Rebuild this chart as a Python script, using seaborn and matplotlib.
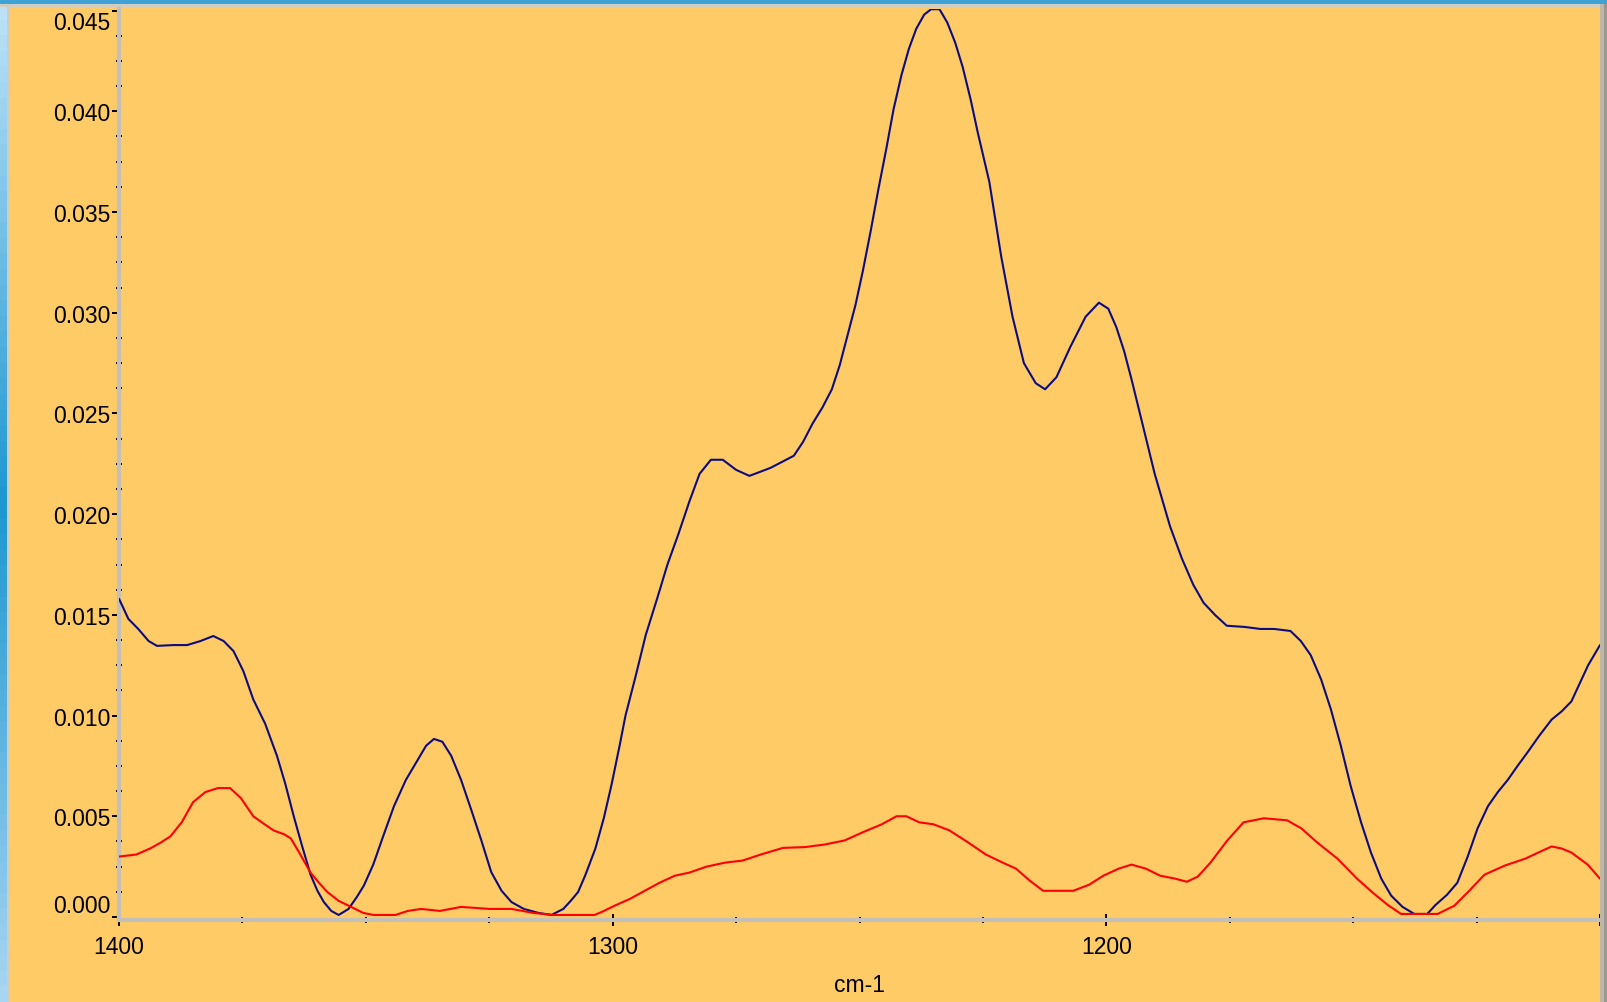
import numpy as np
import pandas as pd
import matplotlib
matplotlib.use("Agg")
import matplotlib.pyplot as plt
from matplotlib.patches import Rectangle
from matplotlib.colors import LinearSegmentedColormap
from matplotlib.ticker import MultipleLocator, FormatStrFormatter
import seaborn as sns

# blue trace (wavenumber cm-1, absorbance)
blue_wn = [1400.0, 1398.1, 1396.1, 1394.0, 1392.3, 1389.0, 1386.2, 1383.5, 1380.9, 1378.8,
           1376.8, 1374.8, 1372.8, 1370.4, 1368.0, 1366.3, 1364.6, 1363.0, 1361.2, 1359.8,
           1358.5, 1357.0, 1355.5, 1353.5, 1351.8, 1350.4, 1348.5, 1346.5, 1344.3, 1341.9,
           1339.5, 1337.8, 1336.2, 1334.5, 1332.7, 1330.7, 1328.7, 1326.6, 1324.6, 1322.5,
           1320.5, 1318.0, 1315.0, 1312.4, 1310.0, 1308.5, 1307.0, 1305.5, 1303.5, 1301.8,
           1300.2, 1298.6, 1297.4, 1295.3, 1293.3, 1291.0, 1288.9, 1286.7, 1284.5, 1282.4,
           1280.1, 1277.7, 1275.0, 1272.3, 1268.0, 1263.3, 1261.4, 1259.5, 1257.5, 1255.6,
           1254.0, 1252.4, 1250.8, 1249.3, 1247.7, 1246.2, 1244.6, 1243.1, 1241.5, 1240.0,
           1238.5, 1236.9, 1235.5, 1233.8, 1232.2, 1230.6, 1229.1, 1227.5, 1226.0, 1223.7,
           1221.3, 1219.0, 1216.7, 1214.3, 1212.4, 1210.1, 1207.3, 1204.2, 1201.5, 1199.6,
           1198.0, 1196.4, 1194.8, 1193.3, 1190.2, 1187.1, 1184.7, 1182.4, 1180.3, 1178.0,
           1175.6, 1172.0, 1168.8, 1166.0, 1162.7, 1160.6, 1158.6, 1156.5, 1154.5, 1152.5,
           1150.5, 1148.4, 1146.4, 1144.3, 1142.3, 1140.0, 1137.6, 1135.0, 1133.3, 1131.0,
           1128.9, 1126.8, 1124.8, 1122.7, 1120.7, 1118.7, 1116.7, 1114.6, 1112.3, 1109.8,
           1107.8, 1105.8, 1104.1, 1102.4, 1100.0]
blue_abs = [0.0158, 0.0148, 0.0143, 0.0137, 0.01346, 0.0135, 0.0135, 0.0137, 0.01395, 0.0137,
            0.0132, 0.0122, 0.0108, 0.0096, 0.0080, 0.0066, 0.0050, 0.0036, 0.0021, 0.0013,
            0.00074, 0.0003, 0.0001, 0.0004, 0.0010, 0.00156, 0.0026, 0.0040, 0.0055, 0.0068,
            0.0078, 0.0085, 0.00884, 0.0087, 0.0080, 0.0068, 0.00536, 0.0038, 0.00223, 0.0013,
            0.00074, 0.0004, 0.0002, 0.0001, 0.0004, 0.0008, 0.00124, 0.0021, 0.0034, 0.0049,
            0.0066, 0.0085, 0.0100, 0.0120, 0.0140, 0.0158, 0.0175, 0.0190, 0.0206, 0.0220,
            0.0227, 0.0227, 0.0222, 0.0219, 0.0223, 0.0229, 0.0236, 0.0245, 0.0253, 0.0262,
            0.0274, 0.0289, 0.0304, 0.0321, 0.0341, 0.0361, 0.0381, 0.0401, 0.0418, 0.0431,
            0.0441, 0.0448, 0.04507, 0.04507, 0.0444, 0.0434, 0.0422, 0.0406, 0.0389, 0.0365,
            0.0328, 0.0298, 0.0275, 0.0265, 0.0262, 0.0268, 0.0283, 0.0298, 0.0305, 0.0302,
            0.0293, 0.0281, 0.0266, 0.0251, 0.0220, 0.0194, 0.0178, 0.0165, 0.0156, 0.0150,
            0.01446, 0.0144, 0.0143, 0.0143, 0.0142, 0.0137, 0.0130, 0.0118, 0.0103, 0.0085,
            0.0065, 0.0047, 0.0032, 0.0019, 0.00106, 0.0005, 0.00015, 0.00015, 0.0006, 0.0011,
            0.0017, 0.0030, 0.0044, 0.0055, 0.0062, 0.0068, 0.0075, 0.0082, 0.0090, 0.0098,
            0.0102, 0.0107, 0.0116, 0.0125, 0.0135]

# red trace
red_wn = [1400.0, 1396.5, 1393.7, 1391.5, 1389.6, 1387.3, 1385.0, 1382.5, 1380.0, 1377.5,
          1375.3, 1372.8, 1370.5, 1368.7, 1366.5, 1365.2, 1363.5, 1361.2, 1359.5, 1357.8,
          1355.5, 1353.0, 1350.5, 1348.4, 1344.0, 1341.5, 1338.8, 1335.0, 1330.7, 1325.0,
          1320.5, 1316.0, 1312.0, 1303.7, 1302.2, 1299.6, 1296.5, 1293.5, 1290.5, 1287.4,
          1284.5, 1281.0, 1277.2, 1273.7, 1270.0, 1265.5, 1261.0, 1257.0, 1253.0, 1249.4,
          1245.5, 1242.5, 1240.5, 1237.9, 1235.0, 1231.8, 1228.0, 1224.4, 1221.0, 1218.3,
          1215.5, 1212.8, 1206.7, 1203.5, 1200.6, 1197.5, 1194.9, 1192.0, 1189.1, 1186.0,
          1183.7, 1181.5, 1178.9, 1175.5, 1172.2, 1168.1, 1163.4, 1160.5, 1157.3, 1153.2,
          1149.2, 1146.0, 1143.0, 1140.3, 1132.9, 1129.5, 1126.5, 1123.4, 1119.3, 1115.1,
          1112.5, 1109.8, 1107.8, 1105.8, 1102.5, 1100.0]
red_abs = [0.0030, 0.0031, 0.0034, 0.0037, 0.0040, 0.0047, 0.0057, 0.0062, 0.0064, 0.0064,
           0.0059, 0.0050, 0.0046, 0.0043, 0.0041, 0.0039, 0.0032, 0.0022, 0.0017, 0.00124,
           0.0008, 0.0005, 0.0002, 0.0001, 0.0001, 0.0003, 0.0004, 0.0003, 0.0005, 0.0004,
           0.0004, 0.0002, 0.0001, 0.0001, 0.00025, 0.00056, 0.0009, 0.0013, 0.0017, 0.00205,
           0.0022, 0.0025, 0.0027, 0.0028, 0.0031, 0.00343, 0.00347, 0.0036, 0.0038, 0.0042,
           0.0046, 0.0050, 0.0050, 0.0047, 0.0046, 0.0043, 0.0037, 0.0031, 0.0027, 0.0024,
           0.0018, 0.0013, 0.0013, 0.0016, 0.00205, 0.0024, 0.0026, 0.0024, 0.00205, 0.0019,
           0.00175, 0.0020, 0.0027, 0.0038, 0.0047, 0.0049, 0.0048, 0.0044, 0.0037, 0.0029,
           0.0019, 0.0012, 0.0006, 0.00015, 0.00015, 0.00056, 0.0013, 0.0021, 0.00255, 0.0029,
           0.0032, 0.0035, 0.0034, 0.0032, 0.0026, 0.0019]

x_ticks = [1400, 1300, 1200, 1100]
x_tick_labels = ["1400", "1300", "1200", ""]
y_ticks = [0.000, 0.005, 0.010, 0.015, 0.020, 0.025, 0.030, 0.035, 0.040, 0.045]

bg = "#FECB66"
colors = {"blue": "#0c0c80", "red": "#ff0000"}

df = pd.concat([
    pd.DataFrame({"cm-1": blue_wn, "absorbance": blue_abs, "trace": "blue"}),
    pd.DataFrame({"cm-1": red_wn, "absorbance": red_abs, "trace": "red"}),
], ignore_index=True)

sns.set_style("ticks")
plt.rcParams["font.family"] = ["Liberation Sans", "DejaVu Sans"]

W, H = 1607, 1003
fig = plt.figure(figsize=(W / 100, H / 100), dpi=100, facecolor=bg)
ax = fig.add_axes([119 / W, 1 - 921 / H, (1600 - 119) / W, (921 - 10) / H])
ax.set_facecolor(bg)

sns.lineplot(data=df, x="cm-1", y="absorbance", hue="trace", palette=colors,
             estimator=None, sort=False, legend=False, linewidth=1.5, ax=ax)

ax.set_xlim(1400, 1100)
ax.set_ylim(-0.00015, 0.04508)
ax.set_xticks(x_ticks)
ax.set_xticklabels(x_tick_labels)
ax.set_yticks(y_ticks)
ax.yaxis.set_major_formatter(FormatStrFormatter("%.3f"))
ax.xaxis.set_minor_locator(MultipleLocator(25))
ax.yaxis.set_minor_locator(MultipleLocator(0.00125))

for side in ["top", "right"]:
    ax.spines[side].set_visible(False)
for side in ["left", "bottom"]:
    ax.spines[side].set_color("#c4c0b8")
    ax.spines[side].set_linewidth(3)
    ax.spines[side].set_zorder(1)

ax.tick_params(axis="y", which="major", direction="out", length=4.8, width=1.4,
               color="black", labelcolor="black", labelsize=16.5, pad=1.5)
ax.tick_params(axis="y", which="minor", direction="inout", length=5, width=1.4, color="black")
ax.tick_params(axis="x", which="major", direction="inout", length=9, width=1.4,
               color="black", labelcolor="black", labelsize=16.5, pad=6)
ax.tick_params(axis="x", which="minor", direction="inout", length=5, width=1.4, color="black")

ax.set_xlabel("cm-1", fontsize=16.5, color="black", labelpad=11)
ax.set_ylabel("")

# end labels sit inside the axis range
yt = ax.yaxis.get_major_ticks()
yt[0].label1.set_va("bottom")
yt[-1].label1.set_va("top")

# window frame around the plot
frame = [
    ((0, H - 5), W, 5, "#3ea2d4"),
    ((0, H - 8), W, 3, "#cfccc4"),
    ((7, 0), 3, H - 5, "#cfccc4"),
    ((1600, 0), 7, H - 5, "#bcb8ae"),
    ((1604, 0), 3, H - 5, "#9c9890"),
]
for (x0, y0), w, h, c in frame:
    fig.add_artist(Rectangle((x0 / W, y0 / H), w / W, h / H, transform=fig.transFigure,
                             facecolor=c, edgecolor="none", zorder=5))

# left window edge: blue gradient strip
edge = fig.add_axes([0, 0, 7 / W, 1 - 5 / H])
edge_cmap = LinearSegmentedColormap.from_list("edge", ["#bde2f8", "#1c96d0", "#a8d6f2"])
edge.imshow(np.linspace(0, 1, 64).reshape(-1, 1), cmap=edge_cmap, aspect="auto")
edge.set_axis_off()

fig.savefig("out.png", dpi=100, facecolor=bg)
